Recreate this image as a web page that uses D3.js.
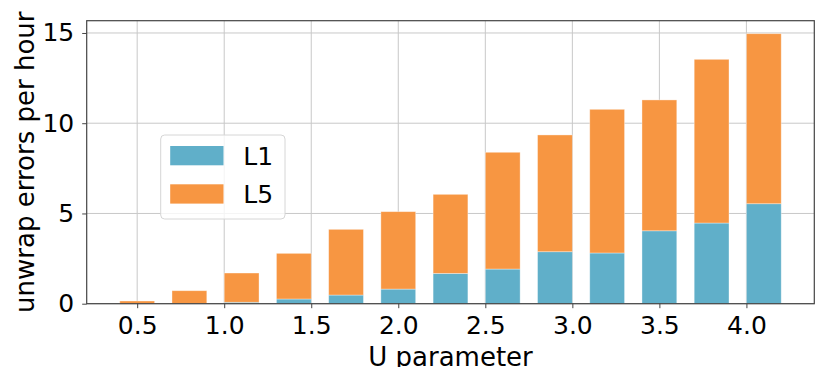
<!DOCTYPE html>
<html>
<head>
<meta charset="utf-8">
<script src="https://cdn.jsdelivr.net/npm/d3@7"></script>
<style>
  body { margin: 0; background: #fff; }
  text { font-family: "DejaVu Sans", sans-serif; fill: #000; }
</style>
</head>
<body>
<div id="container"></div>
<script>
// data
var uValues = [0.5, 0.8, 1.1, 1.4, 1.7, 2.0, 2.3, 2.6, 2.9, 3.2, 3.5, 3.8, 4.1];
var l1Values = [0, 0, 0.08, 0.26, 0.48, 0.81, 1.68, 1.92, 2.88, 2.81, 4.04, 4.47, 5.54];
var l5Values = [0.15, 0.72, 1.62, 2.53, 3.64, 4.29, 4.38, 6.47, 6.47, 7.96, 7.25, 9.07, 9.42];
var xTicks = [0.5, 1.0, 1.5, 2.0, 2.5, 3.0, 3.5, 4.0];
var yTicks = [0, 5, 10, 15];
var seriesNames = ['L1', 'L5'];

var W = 816, H = 367,
    margin = {top: 20.7, right: 1.7, bottom: 63.3, left: 86.7},
    w = W - margin.left - margin.right,
    h = H - margin.top - margin.bottom,
    barWidth = 0.2,
    colors = {L1: '#60afc9', L5: '#f79642'};

var svg = d3.select('#container').append('svg')
    .attr('width', W)
    .attr('height', H);

var g = svg.append('g')
    .attr('transform', 'translate(' + margin.left + ',' + margin.top + ')');

var xScale = d3.scaleLinear()
    .domain([0.21, 4.39])
    .range([0, w]);

var yScale = d3.scaleLinear()
    .domain([0, 15.68])
    .range([h, 0]);

// grid
g.append('g').selectAll('line.vgrid').data(xTicks)
    .enter().append('line')
    .attr('x1', d => xScale(d)).attr('x2', d => xScale(d))
    .attr('y1', 0).attr('y2', h)
    .style('stroke', '#c8c8c8').style('stroke-width', 1);
g.append('g').selectAll('line.hgrid').data(yTicks)
    .enter().append('line')
    .attr('x1', 0).attr('x2', w)
    .attr('y1', d => yScale(d)).attr('y2', d => yScale(d))
    .style('stroke', '#c8c8c8').style('stroke-width', 1);

// stacked bars
var rows = uValues.map((u, i) => ({u: u, L1: l1Values[i], L5: l5Values[i]}));
var stacked = d3.stack().keys(seriesNames)(rows);

g.selectAll('g.series').data(stacked)
    .enter().append('g')
    .attr('class', 'series')
    .style('fill', d => colors[d.key])
    .selectAll('rect').data(d => d)
    .enter().append('rect')
        .attr('x', d => xScale(d.data.u - barWidth / 2))
        .attr('width', d => xScale(d.data.u + barWidth / 2) - xScale(d.data.u - barWidth / 2))
        .attr('y', d => yScale(d[1]))
        .attr('height', d => yScale(d[0]) - yScale(d[1]))
        .style('stroke', 'rgba(255,255,255,0.45)')
        .style('stroke-width', 0.8);

// axes
var xAxis = d3.axisBottom(xScale).tickValues(xTicks).tickFormat(d3.format('.1f')).tickSize(4.5).tickPadding(8.5);
var yAxis = d3.axisLeft(yScale).tickValues(yTicks).tickFormat(d3.format('d')).tickSize(4.5).tickPadding(8);

var gx = g.append('g')
    .attr('transform', 'translate(0,' + h + ')')
    .call(xAxis);
var gy = g.append('g').call(yAxis);

[gx, gy].forEach(a => {
    a.select('.domain').remove();
    a.selectAll('line').style('stroke', '#444').style('stroke-width', 1);
    a.selectAll('text').style('font-size', '25px').style('font-family', '"DejaVu Sans", sans-serif');
});

// frame
g.append('rect')
    .attr('x', 0).attr('y', 0)
    .attr('width', w).attr('height', h)
    .style('fill', 'none')
    .style('stroke', '#444')
    .style('stroke-width', 1.2);

// axis labels
svg.append('text')
    .attr('x', margin.left + w / 2)
    .attr('y', 366)
    .attr('text-anchor', 'middle')
    .style('font-size', '26px')
    .text('U parameter');

svg.append('text')
    .attr('transform', 'translate(34,' + (margin.top + h / 2) + ') rotate(-90)')
    .attr('text-anchor', 'middle')
    .style('font-size', '26px')
    .text('unwrap errors per hour');

// legend
var legend = svg.append('g').attr('transform', 'translate(160.7,135)');
legend.append('rect')
    .attr('width', 124.3).attr('height', 84)
    .attr('rx', 4).attr('ry', 4)
    .style('fill', 'rgba(255,255,255,0.8)')
    .style('stroke', '#d6d6d6')
    .style('stroke-width', 1);

var items = legend.selectAll('g.item').data(seriesNames)
    .enter().append('g')
    .attr('transform', (d, i) => 'translate(9.5,' + (11 + i * 38.3) + ')');
items.append('rect')
    .attr('width', 53.3).attr('height', 19.3)
    .style('fill', d => colors[d]);
items.append('text')
    .attr('x', 73)
    .attr('y', 19)
    .style('font-size', '25px')
    .text(d => d);
</script>
</body>
</html>
